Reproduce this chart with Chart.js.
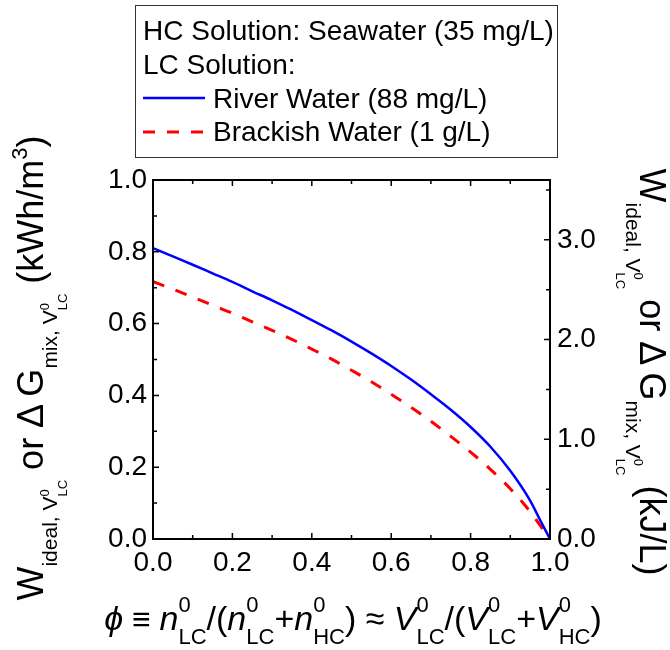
<!DOCTYPE html>
<html>
<head>
<meta charset="utf-8">
<script src="https://cdn.jsdelivr.net/npm/chart.js@4.4.1/dist/chart.umd.min.js"></script>
<style>
html, body { margin: 0; padding: 0; background: #fff; }
#wrap { width: 670px; height: 650px; }
</style>
</head>
<body>
<div id="wrap"><canvas id="energyChart" width="670" height="650"></canvas></div>
<script>
// volume fraction of the LC solution
var phi = [0, 0.05, 0.1, 0.15, 0.2, 0.25, 0.3, 0.35, 0.4, 0.45, 0.5, 0.55, 0.6, 0.65, 0.7, 0.75, 0.8, 0.85, 0.9, 0.95, 0.975, 1.0];
// kWh/m3
var riverWater = [0.810, 0.787, 0.764, 0.740, 0.716, 0.690, 0.665, 0.638, 0.610, 0.581, 0.550, 0.517, 0.482, 0.444, 0.403, 0.360, 0.312, 0.257, 0.190, 0.107, 0.053, 0];
var brackishWater = [0.717, 0.696, 0.674, 0.651, 0.629, 0.605, 0.581, 0.556, 0.529, 0.501, 0.470, 0.438, 0.403, 0.367, 0.328, 0.286, 0.242, 0.194, 0.140, 0.076, 0.038, 0];

var xTicks = [0, 0.2, 0.4, 0.6, 0.8, 1.0];
var leftTicks = [0, 0.2, 0.4, 0.6, 0.8, 1.0];
var rightTicks = [0, 1, 2, 3];
var legendHeader = ['HC Solution: Seawater (35 mg/L)', 'LC Solution:'];
var seriesNames = ['River Water (88 mg/L)', 'Brackish Water (1 g/L)'];

var FONT = '"Liberation Sans", Arial, "DejaVu Sans", sans-serif';

function fontOf(size, italic) {
    return (italic ? 'italic ' : '') + size + 'px ' + FONT;
}

// rich text pieces: plain text or stacked sup/sub
function T(text, size, dy, italic) {
    return { text: text, size: size, dy: dy || 0, italic: !!italic };
}
function S(sup, sub, size, supDy, subDy) {
    return { sup: sup, sub: sub, size: size, supDy: supDy, subDy: subDy };
}

function segWidth(ctx, seg) {
    if (seg.sup !== undefined) {
        ctx.font = fontOf(seg.size);
        return Math.max(ctx.measureText(seg.sup).width, ctx.measureText(seg.sub).width);
    }
    ctx.font = fontOf(seg.size, seg.italic);
    return ctx.measureText(seg.text).width;
}

function drawRich(ctx, segs, cx, cy, angle) {
    ctx.save();
    ctx.translate(cx, cy);
    ctx.rotate(angle);
    ctx.fillStyle = '#000';
    ctx.textBaseline = 'alphabetic';
    ctx.textAlign = 'left';
    var total = 0;
    segs.forEach(function (s) { total += segWidth(ctx, s); });
    var x = -total / 2;
    segs.forEach(function (s) {
        var w = segWidth(ctx, s);
        if (s.sup !== undefined) {
            ctx.font = fontOf(s.size);
            ctx.fillText(s.sup, x, s.supDy);
            ctx.fillText(s.sub, x, s.subDy);
        } else {
            ctx.font = fontOf(s.size, s.italic);
            ctx.fillText(s.text, x, s.dy);
        }
        x += w;
    });
    ctx.restore();
}

var leftTitle = [
    T('W', 36), T('ideal, V', 21, 14), S('0', 'LC', 13, 6, 24),
    T(' or ', 36), T('\u0394\u2009G', 36), T('mix, V', 21, 14), S('0', 'LC', 13, 6, 24),
    T(' (kWh/m', 36), T('3', 22, -16), T(')', 36)
];
var rightTitle = [
    T('W', 36), T('ideal, V', 21, 14), S('0', 'LC', 13, 6, 24),
    T(' or ', 36), T('\u0394\u2009G', 36), T('mix, V', 21, 14), S('0', 'LC', 13, 6, 24),
    T(' (kJ/L)', 36)
];
var bottomTitle = [
    T('\u03D5', 34, 0, true), T(' \u2261 ', 32), T('n', 34, 0, true), S('0', 'LC', 22, -18, 14),
    T('/(', 34), T('n', 34, 0, true), S('0', 'LC', 22, -18, 14), T('+', 34),
    T('n', 34, 0, true), S('0', 'HC', 22, -18, 14), T(') \u2248 ', 34),
    T('V', 34, 0, true), S('0', 'LC', 22, -18, 14), T('/(', 34),
    T('V', 34, 0, true), S('0', 'LC', 22, -18, 14), T('+', 34),
    T('V', 34, 0, true), S('0', 'HC', 22, -18, 14), T(')', 34)
];

var framePlugin = {
    id: 'framePlugin',
    afterDraw: function (chart) {
        var ctx = chart.ctx;
        var a = chart.chartArea;
        var sx = chart.scales.x, sy = chart.scales.y, sy2 = chart.scales.y2;
        ctx.save();
        ctx.strokeStyle = '#000';
        ctx.lineWidth = 2;
        ctx.strokeRect(a.left, a.top, a.right - a.left, a.bottom - a.top);

        ctx.lineWidth = 1.5;
        ctx.beginPath();
        for (var i = 0; i <= 10; i++) {
            var len = i % 2 === 0 ? 6 : 4;
            var px = sx.getPixelForValue(i / 10);
            ctx.moveTo(px, a.bottom); ctx.lineTo(px, a.bottom - len);
            ctx.moveTo(px, a.top); ctx.lineTo(px, a.top + len);
            var py = sy.getPixelForValue(i / 10);
            ctx.moveTo(a.left, py); ctx.lineTo(a.left + len, py);
        }
        for (var j = 0; j <= 7; j++) {
            var l2 = j % 2 === 0 ? 6 : 4;
            var py2 = sy2.getPixelForValue(j / 2);
            ctx.moveTo(a.right, py2); ctx.lineTo(a.right - l2, py2);
        }
        ctx.stroke();
        ctx.restore();

        drawRich(ctx, leftTitle, 43, 368, -Math.PI / 2);
        drawRich(ctx, rightTitle, 640, 372, Math.PI / 2);
        drawRich(ctx, bottomTitle, 353, 630, 0);

        // legend box
        ctx.save();
        ctx.strokeStyle = '#333';
        ctx.lineWidth = 1;
        ctx.strokeRect(135.5, 5.5, 422, 152);
        ctx.fillStyle = '#000';
        ctx.font = fontOf(28);
        ctx.textBaseline = 'alphabetic';
        ctx.fillText(legendHeader[0], 143, 40);
        ctx.fillText(legendHeader[1], 143, 74);
        var ds = chart.data.datasets;
        var rows = [{ y: 98, tb: 108 }, { y: 132, tb: 141 }];
        ds.forEach(function (d, k) {
            ctx.strokeStyle = d.borderColor;
            ctx.lineWidth = d.borderWidth;
            ctx.setLineDash(d.borderDash || []);
            ctx.beginPath();
            ctx.moveTo(143, rows[k].y);
            ctx.lineTo(205, rows[k].y);
            ctx.stroke();
            ctx.setLineDash([]);
            ctx.fillText(seriesNames[k], 213, rows[k].tb);
        });
        ctx.restore();
    }
};

var tickFont = { family: FONT, size: 28 };

new Chart(document.getElementById('energyChart').getContext('2d'), {
    type: 'line',
    data: {
        datasets: [{
            label: seriesNames[0],
            data: phi.map(function (p, i) { return { x: p, y: riverWater[i] }; }),
            borderColor: '#0000ff',
            borderWidth: 2.5,
            pointRadius: 0,
            cubicInterpolationMode: 'monotone',
            fill: false
        }, {
            label: seriesNames[1],
            data: phi.map(function (p, i) { return { x: p, y: brackishWater[i] }; }),
            borderColor: '#ff0000',
            borderWidth: 3,
            borderDash: [12, 12],
            pointRadius: 0,
            cubicInterpolationMode: 'monotone',
            fill: false
        }]
    },
    options: {
        responsive: false,
        animation: false,
        devicePixelRatio: 1,
        layout: { padding: { top: 180, left: 0, right: 0, bottom: 0 } },
        plugins: { legend: { display: false }, tooltip: { enabled: false } },
        scales: {
            x: {
                type: 'linear', min: 0, max: 1, position: 'bottom',
                grid: { display: false, drawTicks: false },
                border: { display: false },
                afterBuildTicks: function (s) { s.ticks = xTicks.map(function (v) { return { value: v }; }); },
                ticks: { font: tickFont, color: '#000', padding: 7, maxRotation: 0,
                    callback: function (v) { return v.toFixed(1); } },
                afterFit: function (s) { s.height = 111; }
            },
            y: {
                type: 'linear', min: 0, max: 1, position: 'left',
                grid: { display: false, drawTicks: false },
                border: { display: false },
                afterBuildTicks: function (s) { s.ticks = leftTicks.map(function (v) { return { value: v }; }); },
                ticks: { font: tickFont, color: '#000', padding: 6,
                    callback: function (v) { return v.toFixed(1); } },
                afterFit: function (s) { s.width = 153; }
            },
            y2: {
                type: 'linear', min: 0, max: 3.6, position: 'right',
                grid: { display: false, drawTicks: false },
                border: { display: false },
                afterBuildTicks: function (s) { s.ticks = rightTicks.map(function (v) { return { value: v }; }); },
                ticks: { font: tickFont, color: '#000', padding: 7,
                    callback: function (v) { return v.toFixed(1); } },
                afterFit: function (s) { s.width = 120; }
            }
        }
    },
    plugins: [framePlugin]
});
</script>
</body>
</html>
